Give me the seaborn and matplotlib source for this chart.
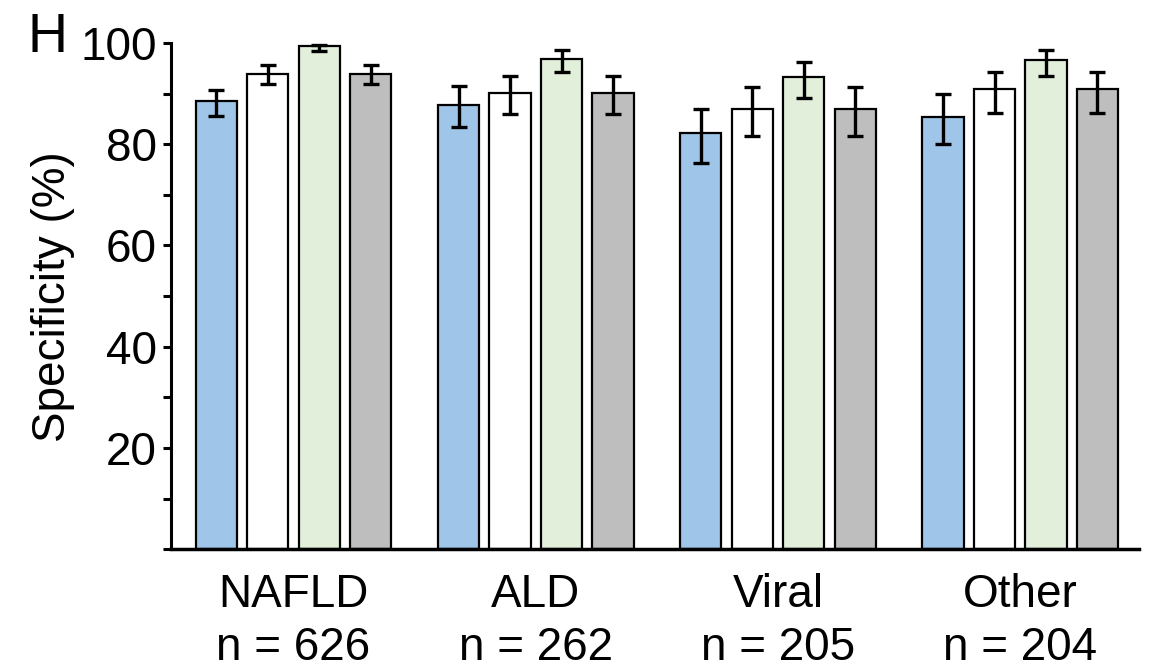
import numpy as np
import pandas as pd
import matplotlib
matplotlib.use("Agg")
import matplotlib.pyplot as plt
import seaborn as sns
from matplotlib.ticker import MultipleLocator

# groups on the x axis
groups = ['NAFLD\nn = 626', 'ALD\nn = 262', 'Viral\nn = 205', 'Other\nn = 204']
tests = ['Test 1', 'Test 2', 'Test 3', 'Test 4']
colors = ['#9fc5e8', '#ffffff', '#e2efda', '#bfbebf']

# specificity (%) and the ends of the error bars, one list per test
test1 = [88.5, 87.8, 82.2, 85.4]
test1_lo = [85.6, 83.3, 76.2, 80.0]
test1_hi = [90.6, 91.5, 87.0, 90.0]

test2 = [93.9, 90.2, 87.0, 90.8]
test2_lo = [91.8, 86.0, 81.7, 86.2]
test2_hi = [95.6, 93.4, 91.2, 94.3]

test3 = [99.3, 96.9, 93.3, 96.7]
test3_lo = [98.3, 94.2, 89.1, 93.5]
test3_hi = [99.5, 98.5, 96.2, 98.5]

test4 = [93.9, 90.2, 87.0, 90.8]
test4_lo = [91.8, 86.0, 81.7, 86.2]
test4_hi = [95.6, 93.4, 91.2, 94.3]

values = [test1, test2, test3, test4]
lows = [test1_lo, test2_lo, test3_lo, test4_lo]
highs = [test1_hi, test2_hi, test3_hi, test4_hi]

df = pd.DataFrame({
    'group': np.tile(groups, len(tests)),
    'test': np.repeat(tests, len(groups)),
    'spec': np.concatenate(values),
})

sns.set_style('ticks')
plt.rcParams['font.family'] = ['Liberation Sans', 'DejaVu Sans']
plt.rcParams.update({'text.color': 'black', 'axes.labelcolor': 'black',
                     'xtick.color': 'black', 'ytick.color': 'black',
                     'axes.edgecolor': 'black'})

fig = plt.figure(figsize=(11.52, 6.7), dpi=100)
ax = fig.add_axes([0.1484, 0.18, 0.8403, 0.756])

sns.barplot(data=df, x='group', y='spec', hue='test', order=groups, hue_order=tests,
            palette=colors, saturation=1, width=0.85, gap=0.2, edgecolor='black',
            linewidth=1.6, errorbar=None, legend=False, ax=ax)

# asymmetric error bars on top of each bar
for cont, vals, lo, hi in zip(ax.containers, values, lows, highs):
    xs = [b.get_x() + b.get_width() / 2 for b in cont]
    vals = np.array(vals)
    yerr = [vals - np.array(lo), np.array(hi) - vals]
    ax.errorbar(xs, vals, yerr=yerr, fmt='none', ecolor='black', elinewidth=2.4,
                capsize=6, capthick=2.4, zorder=5, clip_on=False)

ax.set_ylim(0, 100)
ax.set_xlim(-0.506, 3.49)
ax.yaxis.set_minor_locator(MultipleLocator(10))
ax.set_yticks([20, 40, 60, 80, 100])
ax.set_yticklabels(['20', '40', '60', '80', '100'])
ax.tick_params(axis='y', which='both', direction='out', length=6, width=2.2, labelsize=33, pad=4)
ax.tick_params(axis='x', length=0, labelsize=33, pad=17)
for t in ax.get_xticklabels():
    t.set_linespacing(1.25)

sns.despine(ax=ax)
ax.spines['left'].set_linewidth(2.2)
ax.spines['bottom'].set_linewidth(2.5)
ax.spines['left'].set_bounds(0, 100)

ax.set_xlabel('')
ax.set_ylabel('Specificity (%)', fontsize=33, labelpad=4)

fig.text(0.041, 0.922, 'H', fontsize=40, ha='center', va='baseline')

fig.savefig('out.png', dpi=100)
